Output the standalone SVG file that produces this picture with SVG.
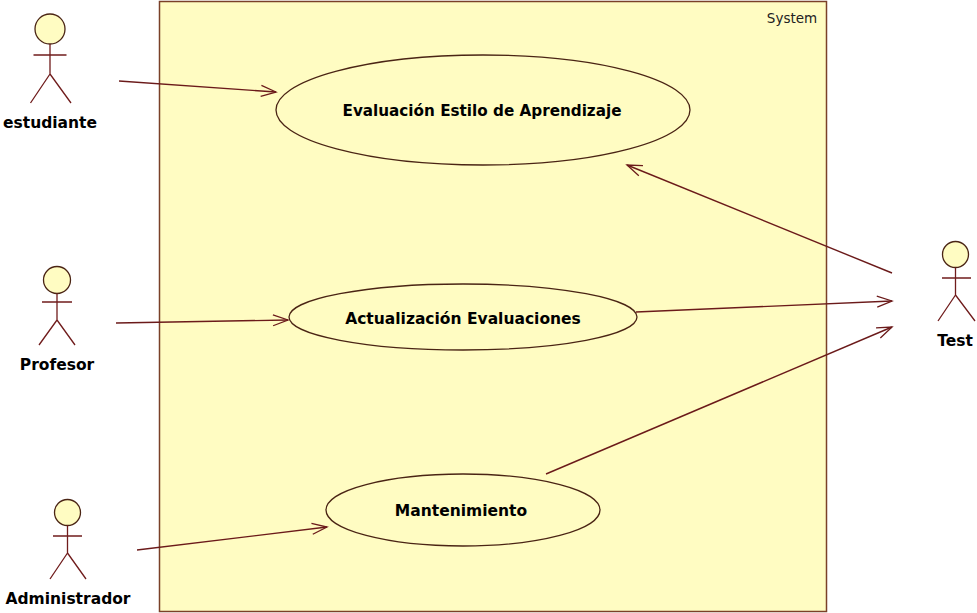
<svg xmlns="http://www.w3.org/2000/svg" width="977" height="613" viewBox="0 0 977 613">
<defs>
<marker id="arr" markerUnits="userSpaceOnUse" markerWidth="20" markerHeight="20" refX="15" refY="8" orient="auto" overflow="visible"><path d="M0 2.500L15 8L0 13.500" fill="none" stroke="#6b1a1a" stroke-width="1.3"/></marker>
</defs>
<style>
.s{stroke:#701c1c;stroke-width:1.3;fill:none}
.f{fill:#fffcc2;stroke:#4a2414;stroke-width:1.3}
.l{font-family:"DejaVu Sans",sans-serif;font-weight:bold;font-size:15.500px;fill:#000;text-anchor:middle}
.c{stroke:#6b1a1a;stroke-width:1.4;fill:none;marker-end:url(#arr)}
</style>
<rect width="977" height="613" fill="#fff"/>
<g id="system">
<rect x="159.500" y="1.500" width="667" height="610" fill="#fffcc2" stroke="#7a4028" stroke-width="1.500"/>
<text x="792" y="23" font-family="'DejaVu Sans',sans-serif" font-size="13.500" fill="#222" text-anchor="middle">System</text>
</g>
<g id="actor-estudiante">
<circle class="f" cx="50" cy="29" r="15"/>
<path class="s" d="M50 44V74M33.500 55H66.500M50 74L30.500 103M50 74L71 103"/>
<text class="l" x="50" y="128">estudiante</text>
</g>
<g id="actor-profesor">
<circle class="f" cx="57" cy="280" r="13.500"/>
<path class="s" d="M57 293.500V320M42 302H72M57 320L39 345M57 320L75 345"/>
<text class="l" x="57" y="370">Profesor</text>
</g>
<g id="actor-administrador">
<circle class="f" cx="67.500" cy="512.500" r="13"/>
<path class="s" d="M67.500 525.500V553M53 536H82M67.500 553L50 579M67.500 553L86 579"/>
<text class="l" x="68" y="604">Administrador</text>
</g>
<g id="actor-test">
<circle class="f" cx="955.500" cy="254.500" r="13"/>
<path class="s" d="M955.500 267.500V295M942 278H971M955.500 295L938 321M955.500 295L975 321"/>
<text class="l" x="955" y="346">Test</text>
</g>
<g id="uc-evaluacion">
<ellipse class="f" cx="483" cy="110" rx="207" ry="55"/>
<text class="l" x="482" y="116" textLength="279" lengthAdjust="spacingAndGlyphs">Evaluación Estilo de Aprendizaje</text>
</g>
<g id="uc-actualizacion">
<ellipse class="f" cx="463" cy="317" rx="174" ry="33"/>
<text class="l" x="463" y="324">Actualización Evaluaciones</text>
</g>
<g id="uc-mantenimiento">
<ellipse class="f" cx="463" cy="510" rx="137" ry="36"/>
<text class="l" x="461" y="516">Mantenimiento</text>
</g>
<g id="connectors">
<path class="c" d="M119 81L276 92"/>
<path class="c" d="M116 323L288 320"/>
<path class="c" d="M137 550L327 527"/>
<path class="c" d="M892 273L627 165"/>
<path class="c" d="M636 312L892 301"/>
<path class="c" d="M546 474L892 327"/>
</g>
</svg>
